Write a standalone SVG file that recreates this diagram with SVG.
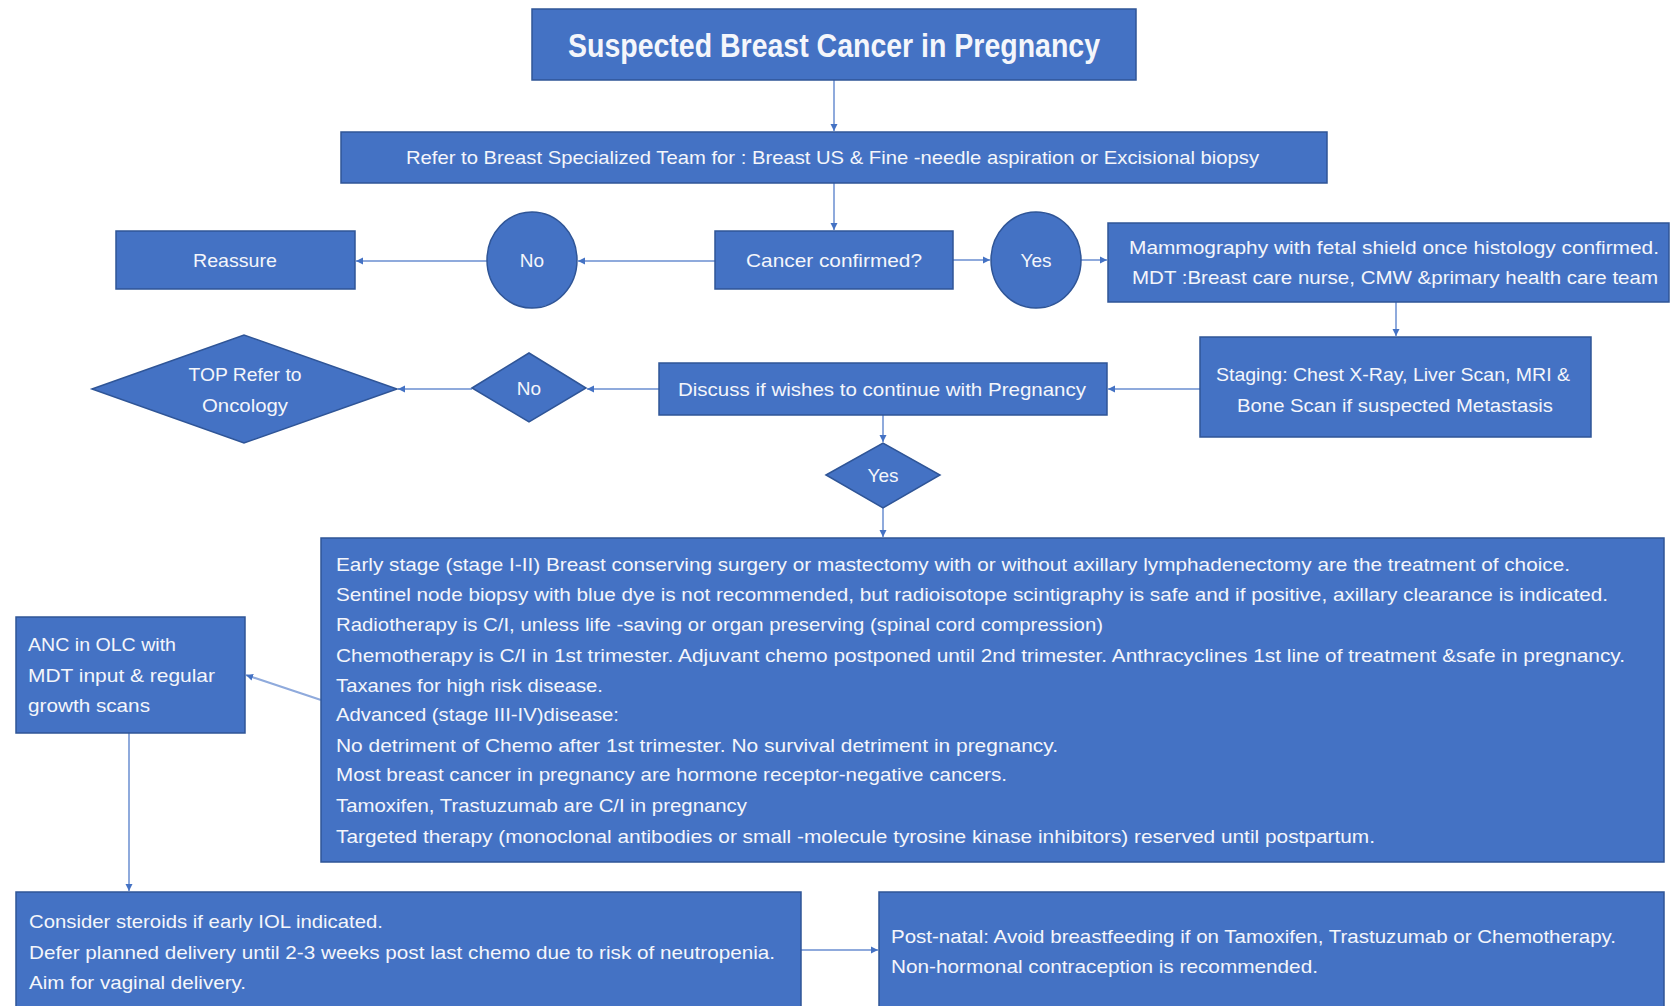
<svg xmlns="http://www.w3.org/2000/svg" width="1670" height="1006" viewBox="0 0 1670 1006">
<style>
.n{fill:#4472C4;stroke:#2F5597;stroke-width:1.5}
.t{font-family:"Liberation Sans",Arial,sans-serif;font-size:19px;fill:#F4F6FB}
.h{font-size:34px;font-weight:bold}
.c{text-anchor:middle}
.e{fill:none;stroke:#8FAADC;stroke-width:2}
</style>
<defs>
<marker id="a" markerUnits="userSpaceOnUse" markerWidth="8" markerHeight="8" refX="7" refY="4" orient="auto">
<path d="M0,0.5 L7,4 L0,7.5 z" fill="#4472C4"/>
</marker>
</defs>
<rect width="1670" height="1006" fill="#FFFFFF"/>
<g id="connectors">
<line class="e" x1="834" y1="80" x2="834" y2="131" marker-end="url(#a)"/>
<line class="e" x1="834" y1="183" x2="834" y2="230" marker-end="url(#a)"/>
<line class="e" x1="715" y1="261" x2="578" y2="261" stroke-width="3" marker-end="url(#a)"/>
<line class="e" x1="487" y1="261" x2="356" y2="261" marker-end="url(#a)"/>
<line class="e" x1="953" y1="260" x2="990" y2="260" marker-end="url(#a)"/>
<line class="e" x1="1081" y1="260" x2="1107" y2="260" marker-end="url(#a)"/>
<line class="e" x1="1396" y1="302" x2="1396" y2="336" marker-end="url(#a)"/>
<line class="e" x1="1200" y1="389" x2="1108" y2="389" marker-end="url(#a)"/>
<line class="e" x1="659" y1="389" x2="587" y2="389" marker-end="url(#a)"/>
<line class="e" x1="472" y1="389" x2="398" y2="389" marker-end="url(#a)"/>
<line class="e" x1="883" y1="415" x2="883" y2="442" marker-end="url(#a)"/>
<line class="e" x1="883" y1="508" x2="883" y2="537" marker-end="url(#a)"/>
<line class="e" x1="321" y1="700" x2="246" y2="675" marker-end="url(#a)"/>
<line class="e" x1="129" y1="733" x2="129" y2="891" marker-end="url(#a)"/>
<line class="e" x1="801" y1="950" x2="878" y2="950" marker-end="url(#a)"/>
</g>
<g id="title">
<rect class="n" x="532" y="9" width="604" height="71"/>
<text class="t h" x="568" y="57" textLength="532" lengthAdjust="spacingAndGlyphs">Suspected Breast Cancer in Pregnancy</text>
</g>
<g id="refer">
<rect class="n" x="341" y="132" width="986" height="51"/>
<text class="t" x="406" y="164" textLength="853" lengthAdjust="spacingAndGlyphs">Refer to Breast Specialized Team for : Breast US &amp; Fine -needle aspiration or Excisional biopsy</text>
</g>
<g id="reassure">
<rect class="n" x="116" y="231" width="239" height="58"/>
<text class="t c" x="235" y="267" textLength="84" lengthAdjust="spacingAndGlyphs">Reassure</text>
</g>
<g id="no1">
<ellipse class="n" cx="532" cy="260" rx="45" ry="48"/>
<text class="t c" x="532" y="267">No</text>
</g>
<g id="cancer">
<rect class="n" x="715" y="231" width="238" height="58"/>
<text class="t c" x="834" y="267" textLength="176" lengthAdjust="spacingAndGlyphs">Cancer  confirmed?</text>
</g>
<g id="yes1">
<ellipse class="n" cx="1036" cy="260" rx="45" ry="48"/>
<text class="t c" x="1036" y="267">Yes</text>
</g>
<g id="mammo">
<rect class="n" x="1108" y="223" width="561" height="79"/>
<text class="t" x="1129" y="254" textLength="530" lengthAdjust="spacingAndGlyphs">Mammography  with  fetal shield once histology confirmed.</text>
<text class="t" x="1132" y="284" textLength="526" lengthAdjust="spacingAndGlyphs">MDT :Breast care nurse, CMW &amp;primary health care team</text>
</g>
<g id="staging">
<rect class="n" x="1200" y="337" width="391" height="100"/>
<text class="t" x="1216" y="381" textLength="354" lengthAdjust="spacingAndGlyphs">Staging: Chest X-Ray, Liver Scan, MRI &amp;</text>
<text class="t" x="1237" y="412" textLength="316" lengthAdjust="spacingAndGlyphs">Bone Scan if suspected Metastasis</text>
</g>
<g id="discuss">
<rect class="n" x="659" y="363" width="448" height="52"/>
<text class="t" x="678" y="396" textLength="408" lengthAdjust="spacingAndGlyphs">Discuss if wishes to continue with  Pregnancy</text>
</g>
<g id="no2">
<polygon class="n" points="472,388 529,353 586,388 529,422"/>
<text class="t c" x="529" y="395">No</text>
</g>
<g id="top">
<polygon class="n" points="92,389 244,335 397,389 244,443"/>
<text class="t c" x="245" y="381" textLength="113" lengthAdjust="spacingAndGlyphs">TOP Refer to</text>
<text class="t c" x="245" y="412" textLength="86" lengthAdjust="spacingAndGlyphs">Oncology</text>
</g>
<g id="yes2">
<polygon class="n" points="826,475 883,443 940,475 883,508"/>
<text class="t c" x="883" y="482">Yes</text>
</g>
<g id="treatment">
<rect class="n" x="321" y="538" width="1343" height="324"/>
<text class="t" x="336" y="571" textLength="1234" lengthAdjust="spacingAndGlyphs">Early stage (stage I-II) Breast conserving surgery or mastectomy with or without  axillary lymphadenectomy  are the treatment  of choice.</text>
<text class="t" x="336" y="601" textLength="1272" lengthAdjust="spacingAndGlyphs">Sentinel node biopsy with blue dye is not  recommended,  but radioisotope scintigraphy is safe and if positive, axillary clearance is indicated.</text>
<text class="t" x="336" y="631" textLength="767" lengthAdjust="spacingAndGlyphs">Radiotherapy is C/I, unless life -saving or organ preserving (spinal cord compression)</text>
<text class="t" x="336" y="662" textLength="1289" lengthAdjust="spacingAndGlyphs">Chemotherapy  is C/I in 1st trimester. Adjuvant chemo postponed until 2nd trimester. Anthracyclines 1st line of treatment &amp;safe in pregnancy.</text>
<text class="t" x="336" y="692" textLength="267" lengthAdjust="spacingAndGlyphs">Taxanes for high risk disease.</text>
<text class="t" x="336" y="721" textLength="283" lengthAdjust="spacingAndGlyphs">Advanced (stage III-IV)disease:</text>
<text class="t" x="336" y="752" textLength="722" lengthAdjust="spacingAndGlyphs">No detriment  of Chemo after 1st trimester. No survival detriment  in pregnancy.</text>
<text class="t" x="336" y="781" textLength="671" lengthAdjust="spacingAndGlyphs">Most breast cancer in pregnancy are hormone  receptor-negative cancers.</text>
<text class="t" x="336" y="812" textLength="411" lengthAdjust="spacingAndGlyphs">Tamoxifen, Trastuzumab are C/I in pregnancy</text>
<text class="t" x="336" y="843" textLength="1039" lengthAdjust="spacingAndGlyphs">Targeted therapy (monoclonal antibodies or small -molecule tyrosine kinase inhibitors) reserved until postpartum.</text>
</g>
<g id="anc">
<rect class="n" x="16" y="617" width="229" height="116"/>
<text class="t" x="28" y="651" textLength="148" lengthAdjust="spacingAndGlyphs">ANC in OLC with</text>
<text class="t" x="28" y="682" textLength="187" lengthAdjust="spacingAndGlyphs">MDT input &amp; regular</text>
<text class="t" x="28" y="712" textLength="122" lengthAdjust="spacingAndGlyphs">growth scans</text>
</g>
<g id="delivery">
<rect class="n" x="16" y="892" width="785" height="125"/>
<text class="t" x="29" y="928" textLength="354" lengthAdjust="spacingAndGlyphs">Consider steroids if early IOL indicated.</text>
<text class="t" x="29" y="959" textLength="746" lengthAdjust="spacingAndGlyphs">Defer planned delivery until  2-3 weeks post last chemo due to risk of neutropenia.</text>
<text class="t" x="29" y="989" textLength="217" lengthAdjust="spacingAndGlyphs">Aim for vaginal delivery.</text>
</g>
<g id="postnatal">
<rect class="n" x="879" y="892" width="785" height="125"/>
<text class="t" x="891" y="943" textLength="725" lengthAdjust="spacingAndGlyphs">Post-natal: Avoid breastfeeding if on  Tamoxifen, Trastuzumab or Chemotherapy.</text>
<text class="t" x="891" y="973" textLength="427" lengthAdjust="spacingAndGlyphs">Non-hormonal  contraception  is recommended.</text>
</g>
</svg>
